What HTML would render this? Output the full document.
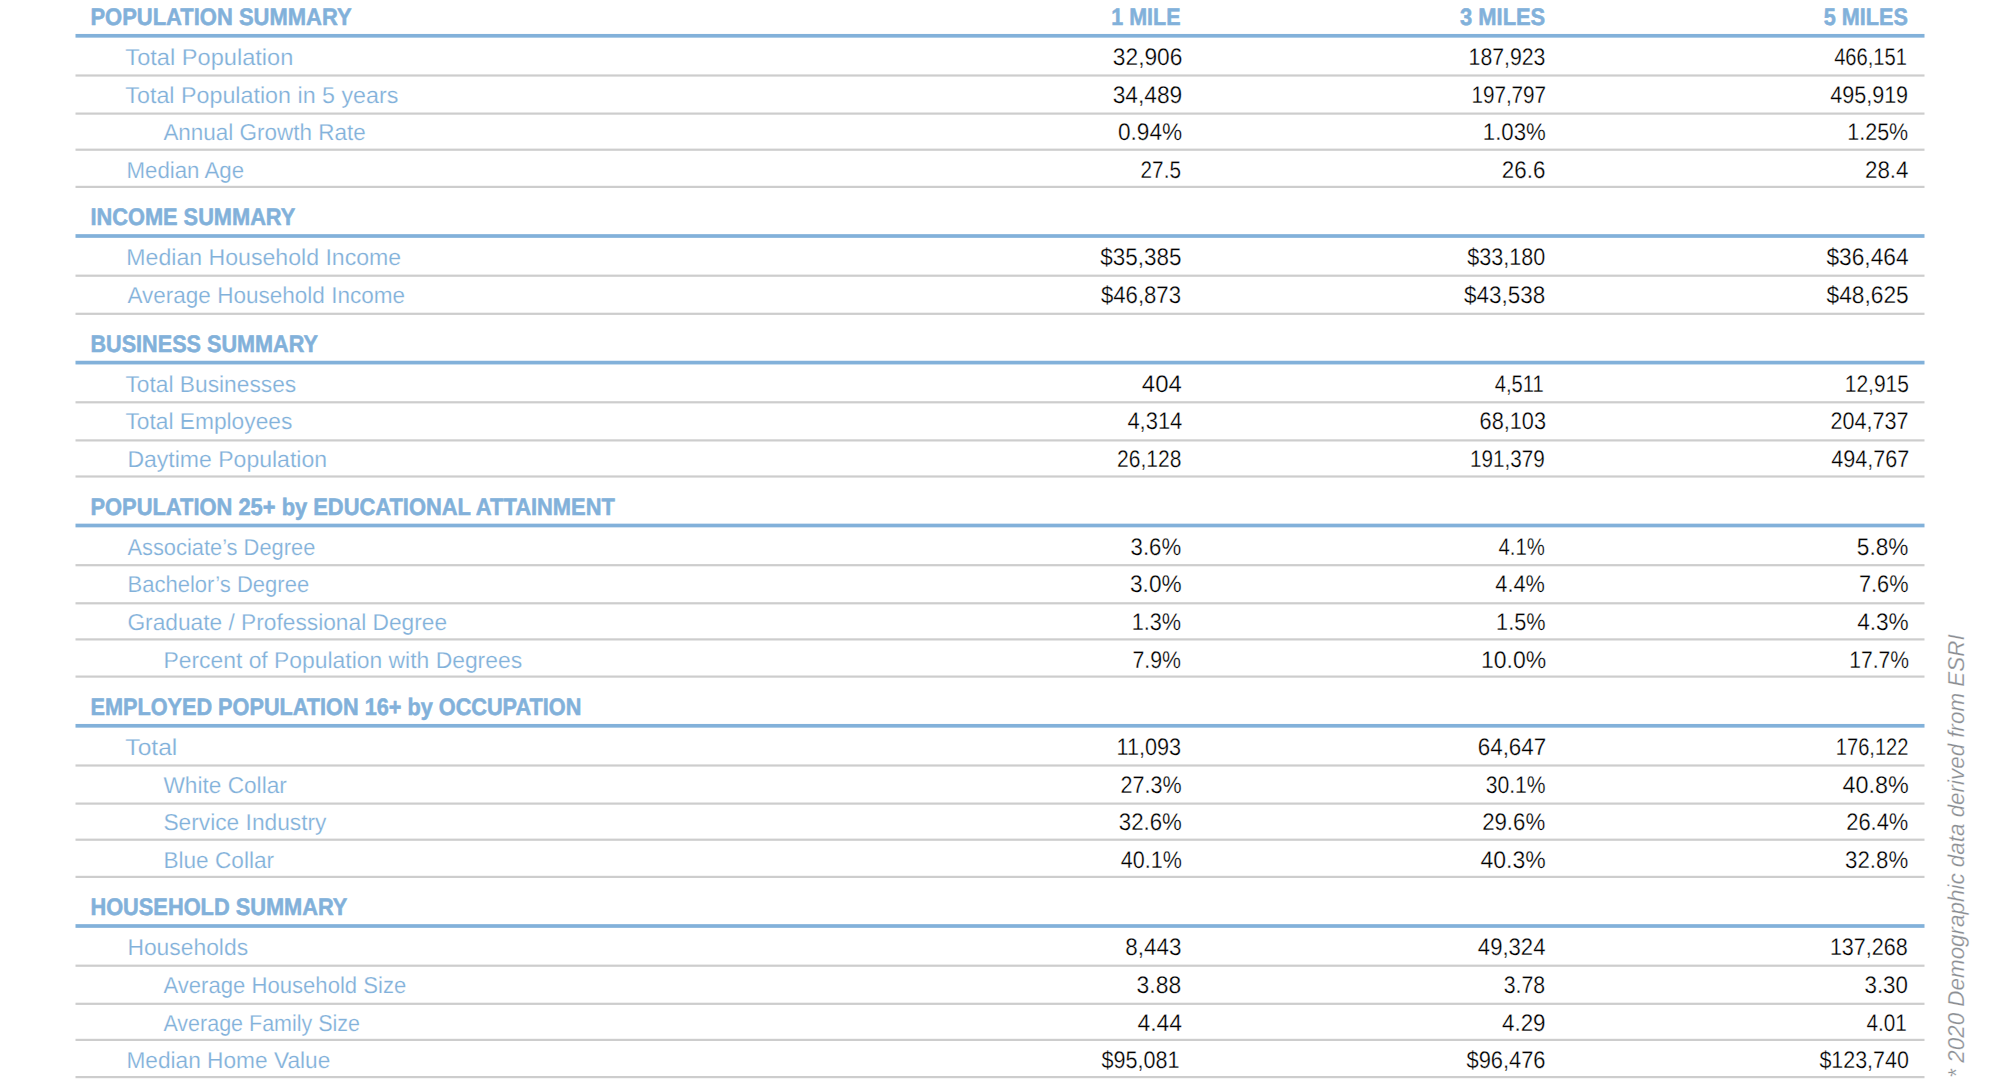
<!DOCTYPE html>
<html><head><meta charset="utf-8"><title>Demographics</title><style>html,body{margin:0;padding:0;background:#fff;width:2000px;height:1080px;overflow:hidden}
svg{display:block}
.hdr{font-family:"Liberation Sans",sans-serif;font-weight:700;font-size:23.8px;fill:#82b1da;stroke:#82b1da;stroke-width:0.55px}
.lab{font-family:"Liberation Sans",sans-serif;font-weight:400;font-size:23.0px;fill:#82b1da;stroke:#fff;stroke-width:0.2px}
.num{font-family:"Liberation Sans",sans-serif;font-weight:400;font-size:24.0px;fill:#000;stroke:#fff;stroke-width:0.28px}
.foot{font-family:"Liberation Sans",sans-serif;font-style:italic;font-weight:400;font-size:23px;fill:#8c8f94;stroke:#fff;stroke-width:0.25px}
text{text-rendering:geometricPrecision}
</style></head><body><svg width="2000" height="1080" viewBox="0 0 2000 1080">
<rect x="75.5" y="33.95" width="1849" height="3.7" fill="#82b1da"/>
<rect x="75.5" y="74.40" width="1849" height="2.2" fill="#cdcdcd"/>
<rect x="75.5" y="112.50" width="1849" height="2.2" fill="#cdcdcd"/>
<rect x="75.5" y="148.60" width="1849" height="2.2" fill="#cdcdcd"/>
<rect x="75.5" y="185.80" width="1849" height="2.2" fill="#cdcdcd"/>
<rect x="75.5" y="234.15" width="1849" height="3.7" fill="#82b1da"/>
<rect x="75.5" y="274.60" width="1849" height="2.2" fill="#cdcdcd"/>
<rect x="75.5" y="312.70" width="1849" height="2.2" fill="#cdcdcd"/>
<rect x="75.5" y="360.75" width="1849" height="3.7" fill="#82b1da"/>
<rect x="75.5" y="401.20" width="1849" height="2.2" fill="#cdcdcd"/>
<rect x="75.5" y="439.30" width="1849" height="2.2" fill="#cdcdcd"/>
<rect x="75.5" y="475.40" width="1849" height="2.2" fill="#cdcdcd"/>
<rect x="75.5" y="523.65" width="1849" height="3.7" fill="#82b1da"/>
<rect x="75.5" y="564.10" width="1849" height="2.2" fill="#cdcdcd"/>
<rect x="75.5" y="602.20" width="1849" height="2.2" fill="#cdcdcd"/>
<rect x="75.5" y="638.30" width="1849" height="2.2" fill="#cdcdcd"/>
<rect x="75.5" y="675.50" width="1849" height="2.2" fill="#cdcdcd"/>
<rect x="75.5" y="723.95" width="1849" height="3.7" fill="#82b1da"/>
<rect x="75.5" y="764.40" width="1849" height="2.2" fill="#cdcdcd"/>
<rect x="75.5" y="802.50" width="1849" height="2.2" fill="#cdcdcd"/>
<rect x="75.5" y="838.60" width="1849" height="2.2" fill="#cdcdcd"/>
<rect x="75.5" y="875.80" width="1849" height="2.2" fill="#cdcdcd"/>
<rect x="75.5" y="924.15" width="1849" height="3.7" fill="#82b1da"/>
<rect x="75.5" y="964.60" width="1849" height="2.2" fill="#cdcdcd"/>
<rect x="75.5" y="1002.70" width="1849" height="2.2" fill="#cdcdcd"/>
<rect x="75.5" y="1038.80" width="1849" height="2.2" fill="#cdcdcd"/>
<rect x="75.5" y="1076.00" width="1849" height="2.2" fill="#cdcdcd"/>
<text x="90.43" y="24.90" textLength="261.18" lengthAdjust="spacingAndGlyphs" class="hdr">POPULATION SUMMARY</text>
<text x="1111.33" y="24.90" textLength="69.16" lengthAdjust="spacingAndGlyphs" class="hdr">1 MILE</text>
<text x="1460.02" y="24.90" textLength="85.22" lengthAdjust="spacingAndGlyphs" class="hdr">3 MILES</text>
<text x="1823.74" y="24.90" textLength="84.20" lengthAdjust="spacingAndGlyphs" class="hdr">5 MILES</text>
<text x="125.37" y="64.90" textLength="167.96" lengthAdjust="spacingAndGlyphs" class="lab">Total Population</text>
<text x="1112.86" y="64.90" textLength="69.55" lengthAdjust="spacingAndGlyphs" class="num">32,906</text>
<text x="1468.60" y="64.90" textLength="76.82" lengthAdjust="spacingAndGlyphs" class="num">187,923</text>
<text x="1834.17" y="64.90" textLength="72.81" lengthAdjust="spacingAndGlyphs" class="num">466,151</text>
<text x="125.39" y="102.60" textLength="273.00" lengthAdjust="spacingAndGlyphs" class="lab">Total Population in 5 years</text>
<text x="1112.64" y="102.60" textLength="69.55" lengthAdjust="spacingAndGlyphs" class="num">34,489</text>
<text x="1471.40" y="102.60" textLength="74.73" lengthAdjust="spacingAndGlyphs" class="num">197,797</text>
<text x="1830.15" y="102.60" textLength="77.99" lengthAdjust="spacingAndGlyphs" class="num">495,919</text>
<text x="163.40" y="140.30" textLength="202.30" lengthAdjust="spacingAndGlyphs" class="lab">Annual Growth Rate</text>
<text x="1117.96" y="140.30" textLength="64.14" lengthAdjust="spacingAndGlyphs" class="num">0.94%</text>
<text x="1482.80" y="140.30" textLength="63.00" lengthAdjust="spacingAndGlyphs" class="num">1.03%</text>
<text x="1847.31" y="140.30" textLength="60.87" lengthAdjust="spacingAndGlyphs" class="num">1.25%</text>
<text x="126.46" y="178.00" textLength="117.61" lengthAdjust="spacingAndGlyphs" class="lab">Median Age</text>
<text x="1140.60" y="178.00" textLength="40.33" lengthAdjust="spacingAndGlyphs" class="num">27.5</text>
<text x="1501.83" y="178.00" textLength="43.50" lengthAdjust="spacingAndGlyphs" class="num">26.6</text>
<text x="1864.97" y="178.00" textLength="43.50" lengthAdjust="spacingAndGlyphs" class="num">28.4</text>
<text x="90.44" y="225.10" textLength="204.89" lengthAdjust="spacingAndGlyphs" class="hdr">INCOME SUMMARY</text>
<text x="126.39" y="265.10" textLength="274.82" lengthAdjust="spacingAndGlyphs" class="lab">Median Household Income</text>
<text x="1100.30" y="265.10" textLength="81.10" lengthAdjust="spacingAndGlyphs" class="num">$35,385</text>
<text x="1467.26" y="265.10" textLength="77.99" lengthAdjust="spacingAndGlyphs" class="num">$33,180</text>
<text x="1826.42" y="265.10" textLength="82.14" lengthAdjust="spacingAndGlyphs" class="num">$36,464</text>
<text x="127.40" y="302.80" textLength="277.63" lengthAdjust="spacingAndGlyphs" class="lab">Average Household Income</text>
<text x="1100.95" y="302.80" textLength="80.06" lengthAdjust="spacingAndGlyphs" class="num">$46,873</text>
<text x="1464.11" y="302.80" textLength="81.10" lengthAdjust="spacingAndGlyphs" class="num">$43,538</text>
<text x="1826.56" y="302.80" textLength="82.14" lengthAdjust="spacingAndGlyphs" class="num">$48,625</text>
<text x="90.46" y="351.70" textLength="227.48" lengthAdjust="spacingAndGlyphs" class="hdr">BUSINESS SUMMARY</text>
<text x="125.41" y="391.70" textLength="170.78" lengthAdjust="spacingAndGlyphs" class="lab">Total Businesses</text>
<text x="1141.87" y="391.70" textLength="39.87" lengthAdjust="spacingAndGlyphs" class="num">404</text>
<text x="1494.80" y="391.70" textLength="48.88" lengthAdjust="spacingAndGlyphs" class="num">4,511</text>
<text x="1844.74" y="391.70" textLength="64.16" lengthAdjust="spacingAndGlyphs" class="num">12,915</text>
<text x="125.41" y="429.40" textLength="166.93" lengthAdjust="spacingAndGlyphs" class="lab">Total Employees</text>
<text x="1127.38" y="429.40" textLength="54.95" lengthAdjust="spacingAndGlyphs" class="num">4,314</text>
<text x="1479.60" y="429.40" textLength="66.40" lengthAdjust="spacingAndGlyphs" class="num">68,103</text>
<text x="1830.60" y="429.40" textLength="77.99" lengthAdjust="spacingAndGlyphs" class="num">204,737</text>
<text x="127.40" y="467.10" textLength="199.66" lengthAdjust="spacingAndGlyphs" class="lab">Daytime Population</text>
<text x="1117.04" y="467.10" textLength="64.30" lengthAdjust="spacingAndGlyphs" class="num">26,128</text>
<text x="1470.01" y="467.10" textLength="74.73" lengthAdjust="spacingAndGlyphs" class="num">191,379</text>
<text x="1831.20" y="467.10" textLength="77.99" lengthAdjust="spacingAndGlyphs" class="num">494,767</text>
<text x="90.44" y="514.60" textLength="524.42" lengthAdjust="spacingAndGlyphs" class="hdr">POPULATION 25+ by EDUCATIONAL ATTAINMENT</text>
<text x="127.40" y="554.60" textLength="187.91" lengthAdjust="spacingAndGlyphs" class="lab">Associate’s Degree</text>
<text x="1130.59" y="554.60" textLength="50.57" lengthAdjust="spacingAndGlyphs" class="num">3.6%</text>
<text x="1498.49" y="554.60" textLength="46.38" lengthAdjust="spacingAndGlyphs" class="num">4.1%</text>
<text x="1856.84" y="554.60" textLength="51.62" lengthAdjust="spacingAndGlyphs" class="num">5.8%</text>
<text x="127.48" y="592.30" textLength="181.75" lengthAdjust="spacingAndGlyphs" class="lab">Bachelor’s Degree</text>
<text x="1130.01" y="592.30" textLength="51.62" lengthAdjust="spacingAndGlyphs" class="num">3.0%</text>
<text x="1495.37" y="592.30" textLength="49.53" lengthAdjust="spacingAndGlyphs" class="num">4.4%</text>
<text x="1858.95" y="592.30" textLength="49.53" lengthAdjust="spacingAndGlyphs" class="num">7.6%</text>
<text x="127.41" y="630.00" textLength="319.65" lengthAdjust="spacingAndGlyphs" class="lab">Graduate / Professional Degree</text>
<text x="1131.69" y="630.00" textLength="49.41" lengthAdjust="spacingAndGlyphs" class="num">1.3%</text>
<text x="1496.10" y="630.00" textLength="49.41" lengthAdjust="spacingAndGlyphs" class="num">1.5%</text>
<text x="1857.13" y="630.00" textLength="51.62" lengthAdjust="spacingAndGlyphs" class="num">4.3%</text>
<text x="163.41" y="667.70" textLength="358.73" lengthAdjust="spacingAndGlyphs" class="lab">Percent of Population with Degrees</text>
<text x="1132.53" y="667.70" textLength="48.48" lengthAdjust="spacingAndGlyphs" class="num">7.9%</text>
<text x="1481.05" y="667.70" textLength="65.13" lengthAdjust="spacingAndGlyphs" class="num">10.0%</text>
<text x="1849.23" y="667.70" textLength="59.81" lengthAdjust="spacingAndGlyphs" class="num">17.7%</text>
<text x="90.45" y="714.90" textLength="490.87" lengthAdjust="spacingAndGlyphs" class="hdr">EMPLOYED POPULATION 16+ by OCCUPATION</text>
<text x="125.33" y="754.90" textLength="51.97" lengthAdjust="spacingAndGlyphs" class="lab">Total</text>
<text x="1116.47" y="754.90" textLength="64.56" lengthAdjust="spacingAndGlyphs" class="num">11,093</text>
<text x="1477.72" y="754.90" textLength="68.50" lengthAdjust="spacingAndGlyphs" class="num">64,647</text>
<text x="1835.84" y="754.90" textLength="72.63" lengthAdjust="spacingAndGlyphs" class="num">176,122</text>
<text x="163.40" y="792.60" textLength="123.46" lengthAdjust="spacingAndGlyphs" class="lab">White Collar</text>
<text x="1120.52" y="792.60" textLength="61.00" lengthAdjust="spacingAndGlyphs" class="num">27.3%</text>
<text x="1485.67" y="792.60" textLength="59.95" lengthAdjust="spacingAndGlyphs" class="num">30.1%</text>
<text x="1842.47" y="792.60" textLength="66.23" lengthAdjust="spacingAndGlyphs" class="num">40.8%</text>
<text x="163.41" y="830.30" textLength="163.10" lengthAdjust="spacingAndGlyphs" class="lab">Service Industry</text>
<text x="1118.77" y="830.30" textLength="63.09" lengthAdjust="spacingAndGlyphs" class="num">32.6%</text>
<text x="1482.14" y="830.30" textLength="63.09" lengthAdjust="spacingAndGlyphs" class="num">29.6%</text>
<text x="1846.28" y="830.30" textLength="62.05" lengthAdjust="spacingAndGlyphs" class="num">26.4%</text>
<text x="163.43" y="868.00" textLength="110.66" lengthAdjust="spacingAndGlyphs" class="lab">Blue Collar</text>
<text x="1120.84" y="868.00" textLength="61.00" lengthAdjust="spacingAndGlyphs" class="num">40.1%</text>
<text x="1480.53" y="868.00" textLength="65.19" lengthAdjust="spacingAndGlyphs" class="num">40.3%</text>
<text x="1845.10" y="868.00" textLength="63.09" lengthAdjust="spacingAndGlyphs" class="num">32.8%</text>
<text x="90.44" y="915.10" textLength="256.95" lengthAdjust="spacingAndGlyphs" class="hdr">HOUSEHOLD SUMMARY</text>
<text x="127.41" y="955.10" textLength="120.65" lengthAdjust="spacingAndGlyphs" class="lab">Households</text>
<text x="1125.34" y="955.10" textLength="56.00" lengthAdjust="spacingAndGlyphs" class="num">8,443</text>
<text x="1477.86" y="955.10" textLength="67.55" lengthAdjust="spacingAndGlyphs" class="num">49,324</text>
<text x="1829.89" y="955.10" textLength="77.87" lengthAdjust="spacingAndGlyphs" class="num">137,268</text>
<text x="163.40" y="992.80" textLength="242.92" lengthAdjust="spacingAndGlyphs" class="lab">Average Household Size</text>
<text x="1136.59" y="992.80" textLength="44.55" lengthAdjust="spacingAndGlyphs" class="num">3.88</text>
<text x="1503.75" y="992.80" textLength="41.39" lengthAdjust="spacingAndGlyphs" class="num">3.78</text>
<text x="1864.49" y="992.80" textLength="43.50" lengthAdjust="spacingAndGlyphs" class="num">3.30</text>
<text x="163.40" y="1030.50" textLength="196.67" lengthAdjust="spacingAndGlyphs" class="lab">Average Family Size</text>
<text x="1137.50" y="1030.50" textLength="44.55" lengthAdjust="spacingAndGlyphs" class="num">4.44</text>
<text x="1502.03" y="1030.50" textLength="43.50" lengthAdjust="spacingAndGlyphs" class="num">4.29</text>
<text x="1866.49" y="1030.50" textLength="40.33" lengthAdjust="spacingAndGlyphs" class="num">4.01</text>
<text x="126.43" y="1068.20" textLength="203.85" lengthAdjust="spacingAndGlyphs" class="lab">Median Home Value</text>
<text x="1101.60" y="1068.20" textLength="77.99" lengthAdjust="spacingAndGlyphs" class="num">$95,081</text>
<text x="1466.51" y="1068.20" textLength="79.03" lengthAdjust="spacingAndGlyphs" class="num">$96,476</text>
<text x="1819.38" y="1068.20" textLength="89.45" lengthAdjust="spacingAndGlyphs" class="num">$123,740</text>
<text transform="translate(1964.4,1075.6) rotate(-90)" x="-2.07" y="0" textLength="443.34" lengthAdjust="spacingAndGlyphs" class="foot">* 2020 Demographic data derived from ESRI</text>
</svg></body></html>
